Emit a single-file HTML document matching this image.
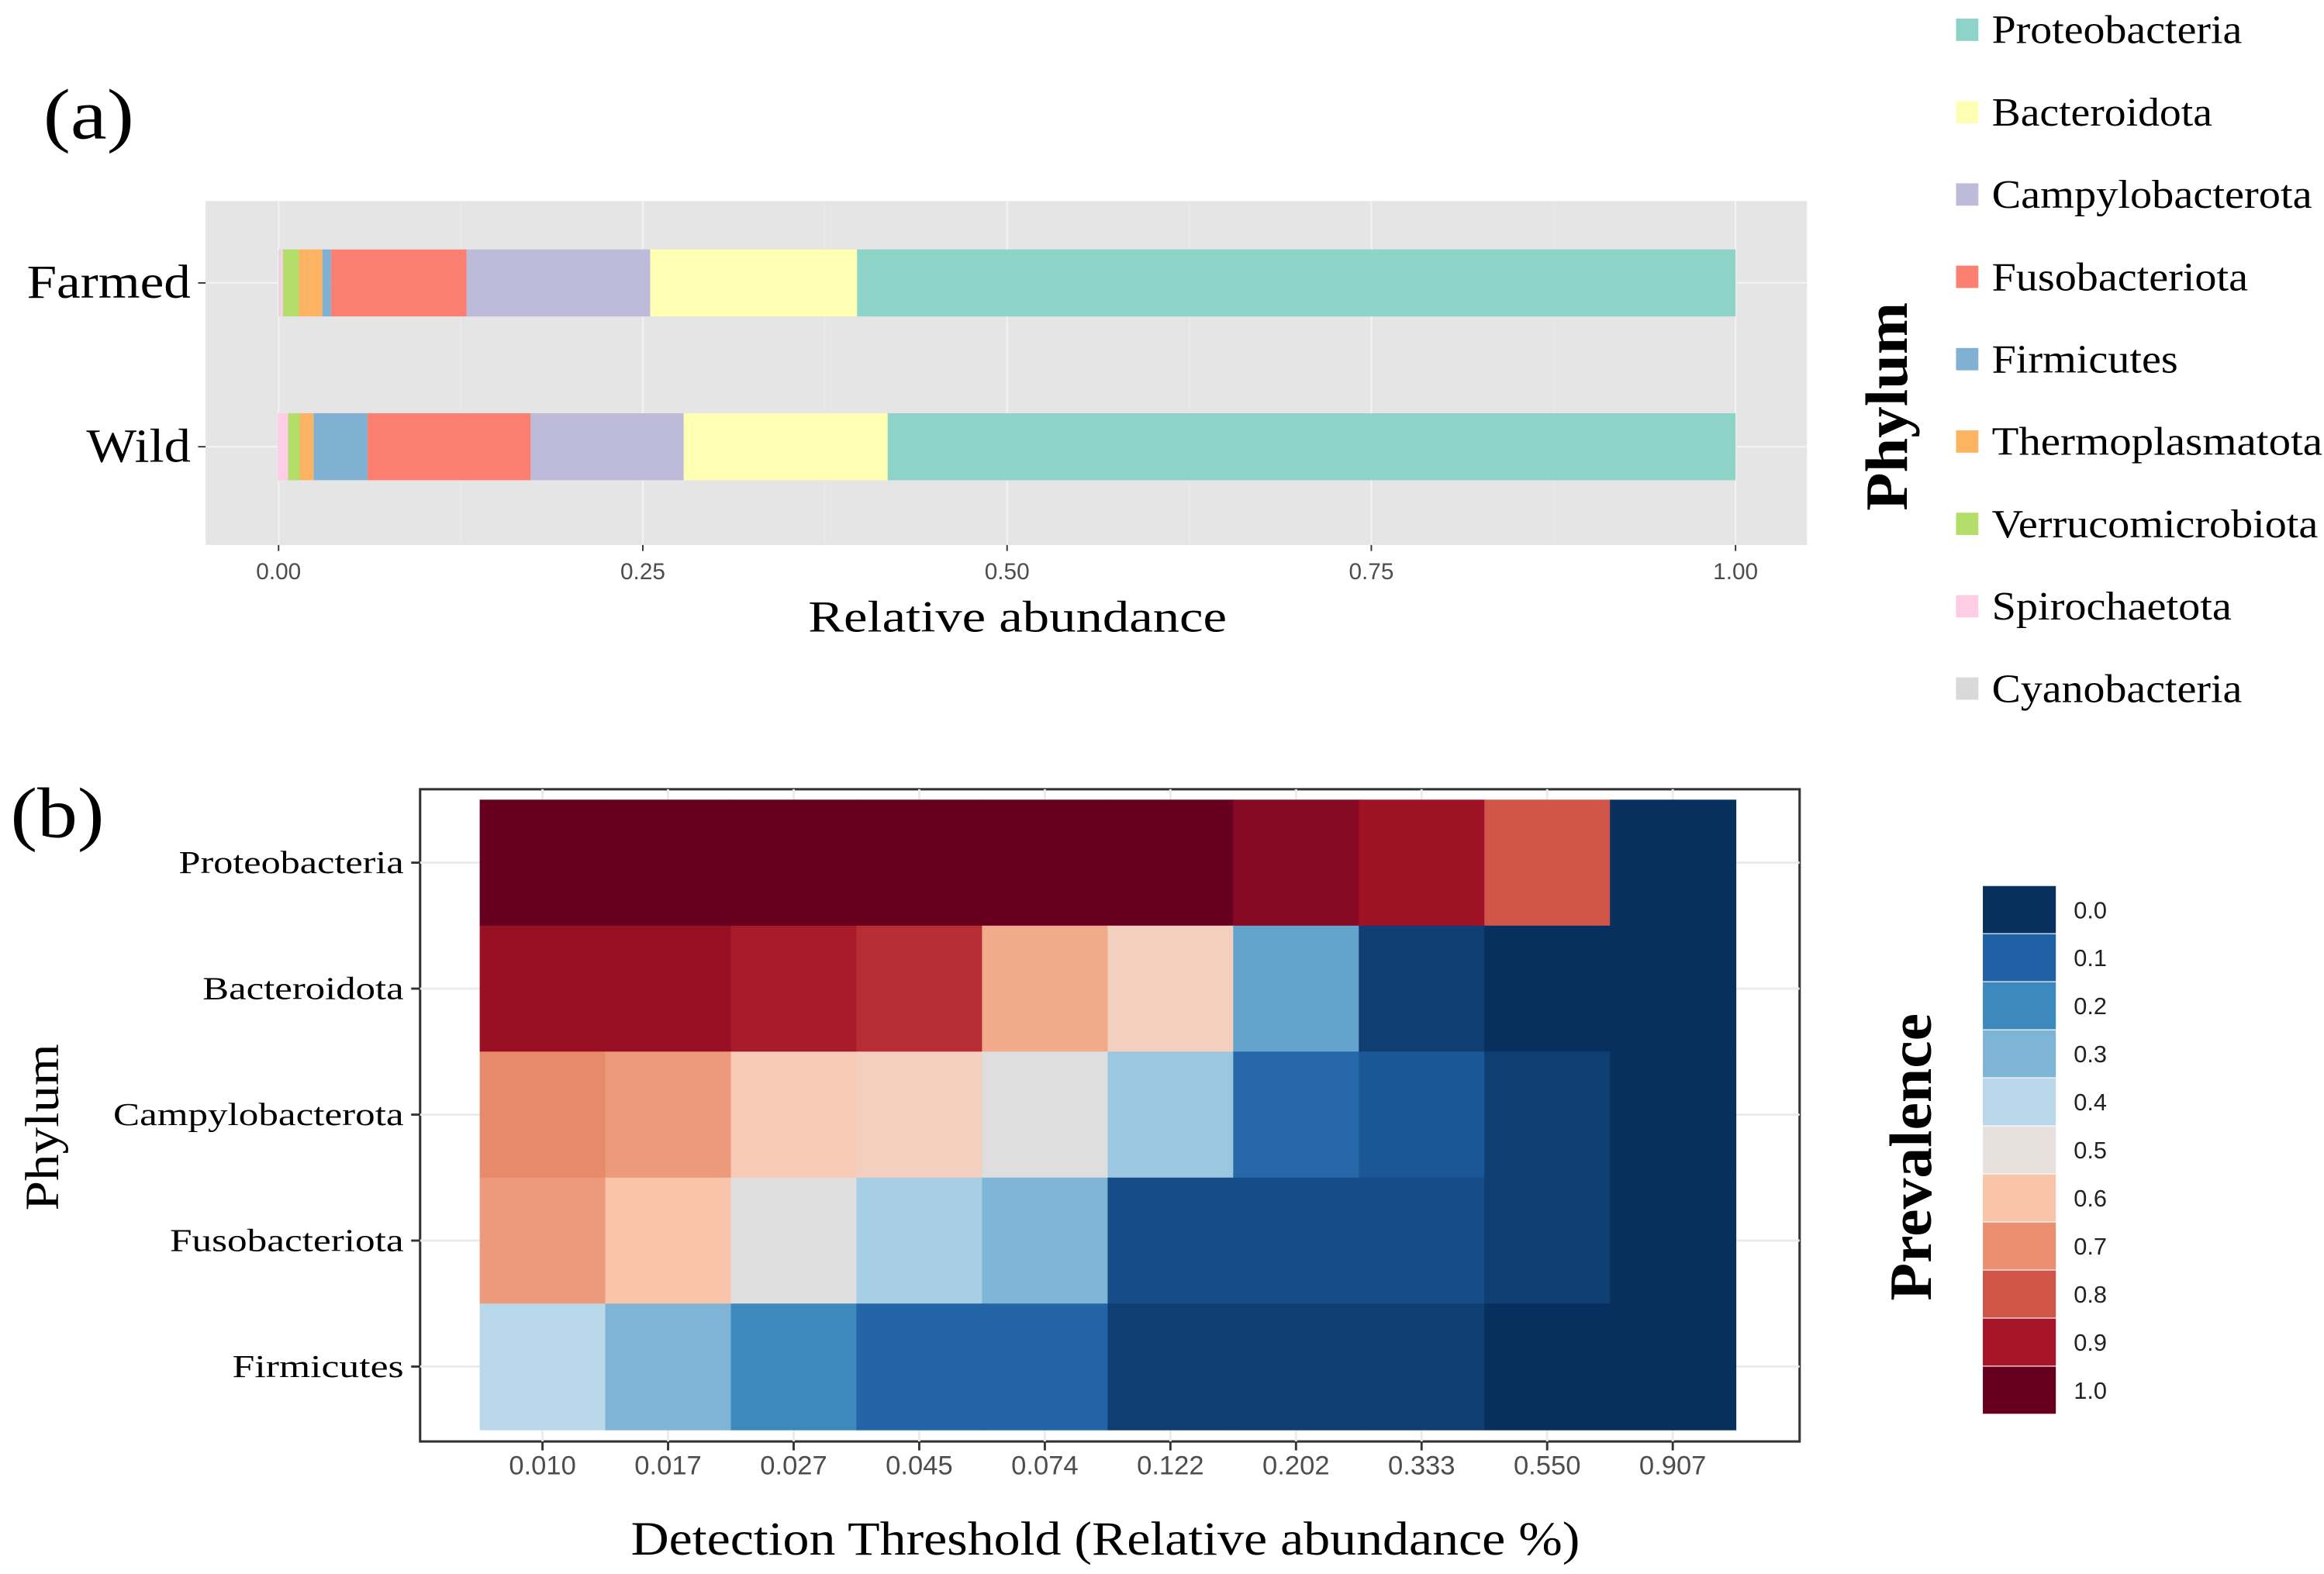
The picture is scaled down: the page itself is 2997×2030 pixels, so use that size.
<!DOCTYPE html>
<html><head><meta charset="utf-8">
<style>
html,body{margin:0;padding:0;background:#fff;}
svg{display:block;}
text{font-family:"Liberation Serif",serif;}
.sans{font-family:"Liberation Sans",sans-serif;}
</style></head>
<body>
<svg id="chart" xmlns="http://www.w3.org/2000/svg" width="2997" height="2030" viewBox="0 0 1560 1057" preserveAspectRatio="none">
<rect x="0" y="0" width="1560" height="1057" fill="#fff"/>
<text x="29" y="93" font-size="48" textLength="61" lengthAdjust="spacingAndGlyphs">(a)</text>
<text x="7" y="562" font-size="48" textLength="63" lengthAdjust="spacingAndGlyphs">(b)</text>
<g id="pa"></g>
<g id="pb"></g>
</svg>
<script>
const NS='http://www.w3.org/2000/svg';
// ---- Panel (a) data ----
const groups=['Farmed','Wild'];
const phyla=['Proteobacteria','Bacteroidota','Campylobacterota','Fusobacteriota','Firmicutes','Thermoplasmatota','Verrucomicrobiota','Spirochaetota','Cyanobacteria'];
const phylaColors=['#8dd3c7','#ffffb3','#bebada','#fb8072','#80b1d3','#fdb462','#b3de69','#fccde5','#d9d9d9'];
const farmedValues=[0.603,0.142,0.126,0.093,0.006,0.016,0.011,0.002,0.001];
const wildValues=[0.582,0.140,0.105,0.112,0.037,0.0095,0.008,0.007,0.0];
const xTicksA=[0,0.25,0.5,0.75,1.0];
const xTickLabelsA=['0.00','0.25','0.50','0.75','1.00'];
// ---- Panel (b) data ----
const rowsB=['Proteobacteria','Bacteroidota','Campylobacterota','Fusobacteriota','Firmicutes'];
const thresholds=['0.010','0.017','0.027','0.045','0.074','0.122','0.202','0.333','0.550','0.907'];
const proteoPrev=[1,1,1,1,1,1,0.95,0.91,0.8,0.0];
const bacteroPrev=[0.92,0.92,0.89,0.86,0.65,0.56,0.26,0.03,0.0,0.0];
const campyPrev=[0.71,0.68,0.58,0.56,0.48,0.35,0.12,0.08,0.03,0.0];
const fusoPrev=[0.68,0.6,0.48,0.37,0.3,0.06,0.06,0.06,0.03,0.0];
const firmPrev=[0.4,0.3,0.2,0.11,0.11,0.03,0.03,0.03,0.0,0.0];
const legendTicksB=['0.0','0.1','0.2','0.3','0.4','0.5','0.6','0.7','0.8','0.9','1.0'];

const legendWidths={Proteobacteria:168,Bacteroidota:148,Campylobacterota:215,Fusobacteriota:172,Firmicutes:125,Thermoplasmatota:222,Verrucomicrobiota:219,Spirochaetota:161,Cyanobacteria:168};
const rowLabelWidths={Proteobacteria:151,Bacteroidota:135,Campylobacterota:195,Fusobacteriota:157,Firmicutes:115};

function mk(tag,attrs,parent,txt){const e=document.createElementNS(NS,tag);for(const k in attrs)e.setAttribute(k,attrs[k]);if(txt!==undefined)e.textContent=txt;parent.appendChild(e);return e;}

// ---------- Panel A ----------
const pa=document.getElementById('pa');
const ax0=187, ax1=1165;
const xA=v=>ax0+(ax1-ax0)*v;
const bg=mk('rect',{x:138,y:135,width:1075,height:231,fill:'#e5e5e5'},pa);


const minorA=[0.125,0.375,0.625,0.875];
minorA.forEach(v=>{mk('line',{x1:xA(v),x2:xA(v),y1:135,y2:366,stroke:'#ebebeb','stroke-width':0.6},pa);});
xTicksA.forEach((v,i)=>{
  mk('line',{x1:xA(v),x2:xA(v),y1:135,y2:366,stroke:'#f2f2f2','stroke-width':1.2},pa);
  mk('line',{x1:xA(v),x2:xA(v),y1:366,y2:370,stroke:'#333','stroke-width':1},pa);
  const t=mk('text',{x:xA(v),y:389,'font-size':15.5,fill:'#4d4d4d','text-anchor':'middle',class:'sans'},pa,xTickLabelsA[i]);
  
  
});
const yA=[190,300];
const bh=45;
const series=[farmedValues,wildValues];
const groupWidths=[110,70];
groups.forEach((g,gi)=>{
  const cy=yA[gi];
  mk('line',{x1:138,x2:1213,y1:cy,y2:cy,stroke:'#f2f2f2','stroke-width':1.2},pa);
  mk('line',{x1:133,x2:138,y1:cy,y2:cy,stroke:'#333','stroke-width':1},pa);
  const lab=mk('text',{x:128,y:cy+10,'font-size':32,'text-anchor':'end',textLength:groupWidths[gi],lengthAdjust:'spacingAndGlyphs'},pa,g);
  
  
  let right=1;
  series[gi].forEach((v,pi)=>{
    const left=right-v;
    if(v>0){
      const r=mk('rect',{x:xA(left),y:cy-bh/2,width:Math.max(0,xA(right)-xA(left)),height:bh,fill:phylaColors[pi]},pa);
      
      
    }
    right=left;
  });
});
const xtA=mk('text',{x:683,y:424,'font-size':30,'text-anchor':'middle',textLength:281,lengthAdjust:'spacingAndGlyphs'},pa,'Relative abundance');


const phT=mk('text',{x:0,y:0,'font-size':40,'font-weight':'bold','text-anchor':'middle',textLength:140,lengthAdjust:'spacingAndGlyphs',transform:'translate(1280,273) rotate(-90)'},pa,'Phylum');


phyla.forEach((p,i)=>{
  const cy=20+i*55.3;
  const g=mk('g',{},pa);
  
  
  mk('rect',{x:1313,y:cy-7.5,width:15,height:15,fill:phylaColors[i]},g);
  mk('text',{x:1337,y:cy+9,'font-size':27,textLength:legendWidths[p],lengthAdjust:'spacingAndGlyphs'},g,p);
});

// ---------- Panel B ----------
const pb=document.getElementById('pb');
const hx0=322, hx1=1165, hy0=537, hy1=960;
const cw=(hx1-hx0)/thresholds.length, rh=(hy1-hy0)/rowsB.length;
const xB=i=>hx0+cw*i;
const yB=j=>hy0+rh*j;
const stops=['#08305e','#2060a4','#3d89be','#7eb5d6','#b9d8ea','#e8e0dc','#f9c4aa','#ea9070','#d05548','#a51427','#67001f'];
function hex(h){return [1,3,5].map(k=>parseInt(h.substr(k,2),16));}
function colorFor(v){const t=Math.max(0,Math.min(1,v))*10;const i=Math.min(9,Math.floor(t));const f=t-i;const a=hex(stops[i]),b=hex(stops[i+1]);return 'rgb('+a.map((c,k)=>Math.round(c+(b[k]-c)*f)).join(',')+')';}
mk('rect',{x:282,y:530,width:926,height:438,fill:'#fff',stroke:'#333','stroke-width':1.6},pb);
thresholds.forEach((t,i)=>{mk('line',{x1:xB(i)+cw/2,x2:xB(i)+cw/2,y1:530,y2:968,stroke:'#ebebeb','stroke-width':1.5},pb);});
rowsB.forEach((r,j)=>{mk('line',{x1:282,x2:1208,y1:yB(j)+rh/2,y2:yB(j)+rh/2,stroke:'#ebebeb','stroke-width':1.5},pb);});
const matrix=[proteoPrev,bacteroPrev,campyPrev,fusoPrev,firmPrev];
matrix.forEach((row,j)=>{
  row.forEach((v,i)=>{
    const c=mk('rect',{x:xB(i),y:yB(j),width:cw+0.5,height:rh+0.5,fill:colorFor(v)},pb);
    
    
  });
});
rowsB.forEach((r,j)=>{
  const cy=yB(j)+rh/2;
  mk('line',{x1:276,x2:282,y1:cy,y2:cy,stroke:'#333','stroke-width':1.5},pb);
  const t=mk('text',{x:271,y:cy+7,'font-size':21.5,'text-anchor':'end',textLength:rowLabelWidths[r],lengthAdjust:'spacingAndGlyphs'},pb,r);
  
  
});
thresholds.forEach((th,i)=>{
  const cx=xB(i)+cw/2;
  mk('line',{x1:cx,x2:cx,y1:968,y2:974,stroke:'#333','stroke-width':1.5},pb);
  const t=mk('text',{x:cx,y:990,'font-size':18,fill:'#4d4d4d','text-anchor':'middle',class:'sans'},pb,th);
  
  
});
const xtB=mk('text',{x:742,y:1044,'font-size':32,'text-anchor':'middle',textLength:637,lengthAdjust:'spacingAndGlyphs'},pb,'Detection Threshold (Relative abundance %)');


const ytB=mk('text',{x:0,y:0,'font-size':32,'text-anchor':'middle',textLength:112,lengthAdjust:'spacingAndGlyphs',transform:'translate(39,757) rotate(-90)'},pb,'Phylum');


const prT=mk('text',{x:0,y:0,'font-size':40,'font-weight':'bold','text-anchor':'middle',textLength:193,lengthAdjust:'spacingAndGlyphs',transform:'translate(1296,777) rotate(-90)'},pb,'Prevalence');


const lbY0=595, lbH=(950-595)/legendTicksB.length;
legendTicksB.forEach((lt,k)=>{
  const y=lbY0+k*lbH;
  const r=mk('rect',{x:1331,y:y,width:49,height:lbH-0.6,fill:colorFor(parseFloat(lt))},pb);
  
  
  const t=mk('text',{x:1392,y:y+lbH/2+5.5,'font-size':16,fill:'#222',class:'sans'},pb,lt);
  
  
});
</script>
</body></html>
